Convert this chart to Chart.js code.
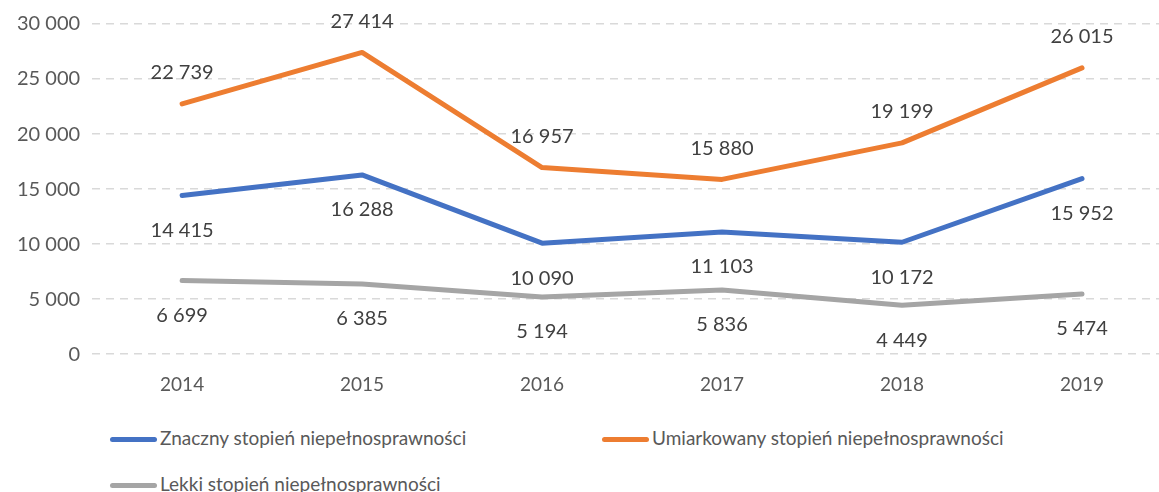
<!DOCTYPE html>
<html>
<head>
<meta charset="utf-8">
<script src="https://cdn.jsdelivr.net/npm/chart.js@4.4.0/dist/chart.umd.min.js"></script>
<style>
    html, body { margin: 0; padding: 0; background: #fff; overflow: hidden; }
    #wrap { position: relative; width: 1180px; height: 407px; }
    .legend { position: absolute; font-family: Lato, "Open Sans", sans-serif; font-size: 19px; color: #595959; white-space: nowrap; line-height: 24px; }
    .legend span.line { display: inline-block; width: 47px; height: 5px; border-radius: 3px; vertical-align: middle; margin-right: 3px; position: relative; top: -1px; }
</style>
</head>
<body>
<div id="wrap"><canvas id="chart"></canvas></div>
<div class="legend" style="left:110px; top:426px;"><span class="line" style="background:#4472C4"></span>Znaczny stopień niepełnosprawności</div>
<div class="legend" style="left:602px; top:426px;"><span class="line" style="background:#ED7D31"></span>Umiarkowany stopień niepełnosprawności</div>
<div class="legend" style="left:110px; top:472px;"><span class="line" style="background:#A5A5A5"></span>Lekki stopień niepełnosprawności</div>
<script>
// Chart data
const years = ['2014', '2015', '2016', '2017', '2018', '2019'];
const znaczny = [14415, 16288, 10090, 11103, 10172, 15952];
const umiarkowany = [22739, 27414, 16957, 15880, 19199, 26015];
const lekki = [6699, 6385, 5194, 5836, 4449, 5474];
const seriesNames = [
    'Znaczny stopień niepełnosprawności',
    'Umiarkowany stopień niepełnosprawności',
    'Lekki stopień niepełnosprawności'
];

const FONT = 'Lato, "Open Sans", sans-serif';

function formatNum(v) {
    return String(v).replace(/\B(?=(\d{3})+(?!\d))/g, ' ');
}

// Draw value labels next to each point (above for orange, below for the others)
const valueLabels = {
    id: 'valueLabels',
    afterDatasetsDraw(chart) {
        const ctx = chart.ctx;
        ctx.save();
        ctx.font = '20px ' + FONT;
        ctx.fillStyle = '#404040';
        ctx.textAlign = 'center';
        ctx.textBaseline = 'middle';
        chart.data.datasets.forEach((ds, i) => {
            const meta = chart.getDatasetMeta(i);
            meta.data.forEach((pt, j) => {
                const dy = ds.labelAbove ? -31 : 35;
                ctx.fillText(formatNum(ds.data[j]), pt.x, pt.y + dy);
            });
        });
        ctx.restore();
    }
};

new Chart(document.getElementById('chart'), {
    type: 'line',
    data: {
        labels: years,
        datasets: [
            { label: seriesNames[0], data: znaczny, borderColor: '#4472C4' },
            { label: seriesNames[1], data: umiarkowany, borderColor: '#ED7D31', labelAbove: true },
            { label: seriesNames[2], data: lekki, borderColor: '#A5A5A5' }
        ].map(d => Object.assign(d, {
            borderWidth: 5,
            pointRadius: 0,
            tension: 0,
            borderCapStyle: 'round',
            borderJoinStyle: 'round',
            fill: false
        }))
    },
    options: {
        responsive: true,
        maintainAspectRatio: false,
        animation: false,
        layout: { padding: { top: 1, left: 5, right: 8, bottom: 0 } },
        plugins: {
            legend: { display: false },
            tooltip: { enabled: false }
        },
        scales: {
            x: {
                offset: true,
                grid: { display: false },
                border: { display: false },
                ticks: { color: '#595959', font: { family: FONT, size: 19 }, padding: 11 }
            },
            y: {
                min: 0,
                max: 30000,
                ticks: {
                    stepSize: 5000,
                    color: '#595959',
                    font: { family: FONT, size: 20 },
                    padding: 12,
                    callback: v => formatNum(v)
                },
                border: { display: false, dash: [8, 6] },
                grid: {
                    drawTicks: false,
                    lineWidth: 1.5,
                    color: '#D9D9D9'
                }
            }
        }
    },
    plugins: [valueLabels]
});
</script>
</body>
</html>
